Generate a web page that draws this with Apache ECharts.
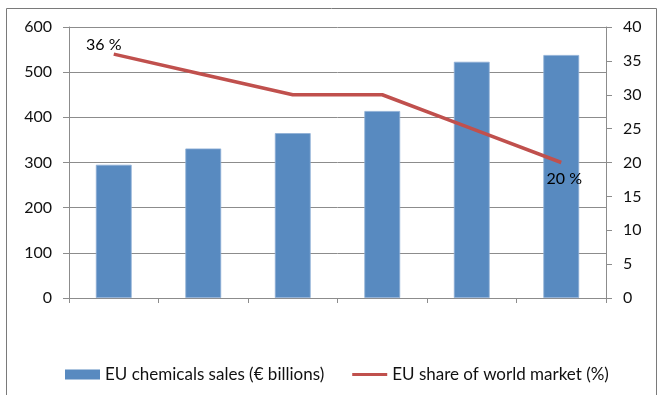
<!DOCTYPE html>
<html><head><meta charset="utf-8">
<script src="https://cdn.jsdelivr.net/npm/echarts@6/dist/echarts.min.js"></script>
<style>html,body{margin:0;padding:0;background:#fff}#c{width:660px;height:395px}</style>
</head><body><div id="c"></div>
<script>
const categories = ['1', '2', '3', '4', '5', '6'];
const salesValues = [295, 331, 365, 414, 523, 538];
const shareValues = [36, 33, 30, 30, 25, 20];
const leftTicks = { min: 0, max: 600, interval: 100 };
const rightTicks = { min: 0, max: 40, interval: 5 };
const seriesNames = ['EU chemicals sales (€ billions)', 'EU share of world market (%)'];

const FONT = 'Lato';
const grey = '#8c8c8c';
const chart = echarts.init(document.getElementById('c'));
const labelData = shareValues.map((v, i) => {
  if (i === 0) return { value: [categories[i], v], label: { show: true, position: 'top', distance: 1, offset: [-10, 0] } };
  if (i === shareValues.length - 1) return { value: [categories[i], v], label: { show: true, position: 'bottom', distance: 8, offset: [3, 0] } };
  return { value: [categories[i], v], label: { show: false } };
});
chart.setOption({
  animation: false,
  textStyle: { fontFamily: FONT },
  graphic: [{ type: 'rect', shape: { x: 6.5, y: 8.5, width: 650, height: 400 }, style: { fill: 'none', stroke: '#7a7a7a', lineWidth: 1 } }],
  grid: { left: 69, right: 54, top: 27, bottom: 97 },
  legend: {
    bottom: 7, left: 60, itemGap: 28, itemWidth: 35, itemHeight: 10,
    textStyle: { fontFamily: FONT, fontSize: 17, color: '#111' },
    data: [
      { name: seriesNames[0], icon: 'rect', itemStyle: { borderWidth: 0 } },
      { name: seriesNames[1], icon: 'path://M0,0 M36,10 M0,3.4 L36,3.4 L36,6.6 L0,6.6 Z', itemStyle: { color: '#c0504d', borderWidth: 0 } }
    ]
  },
  xAxis: {
    type: 'category', data: categories, boundaryGap: true,
    axisLine: { lineStyle: { color: grey } },
    axisTick: { show: true, length: 5, alignWithLabel: false, lineStyle: { color: grey } },
    axisLabel: { show: false }
  },
  yAxis: [{
    type: 'value', min: leftTicks.min, max: leftTicks.max, interval: leftTicks.interval,
    axisLine: { show: true, lineStyle: { color: grey } },
    axisTick: { show: true, length: 6, lineStyle: { color: grey } },
    splitLine: { show: true, lineStyle: { color: grey } },
    axisLabel: { margin: 17, fontSize: 16, color: '#111', fontFamily: FONT }
  }, {
    type: 'value', min: rightTicks.min, max: rightTicks.max, interval: rightTicks.interval, position: 'right',
    axisLine: { show: true, lineStyle: { color: grey } },
    axisTick: { show: true, length: 6, lineStyle: { color: grey } },
    splitLine: { show: false },
    axisLabel: { margin: 17, fontSize: 16, color: '#111', fontFamily: FONT }
  }],
  series: [{
    name: seriesNames[0], type: 'bar', data: salesValues, barWidth: '40%',
    itemStyle: { color: '#588ac0', borderColor: '#8eaed6', borderWidth: 0.8 }
  }, {
    name: seriesNames[1], type: 'line', yAxisIndex: 1, data: shareValues, symbol: 'none',
    lineStyle: { color: '#c0504d', width: 3.5 }, itemStyle: { color: '#c0504d' }
  }, {
    name: 'labels', type: 'scatter', yAxisIndex: 1, data: labelData, symbolSize: 1,
    itemStyle: { color: '#c0504d', opacity: 0 }, silent: true, z: 5,
    label: { formatter: p => p.value[1] + ' %', fontSize: 16, color: '#000', opacity: 1, textBorderWidth: 0, fontFamily: FONT }
  }]
});
</script></body></html>
